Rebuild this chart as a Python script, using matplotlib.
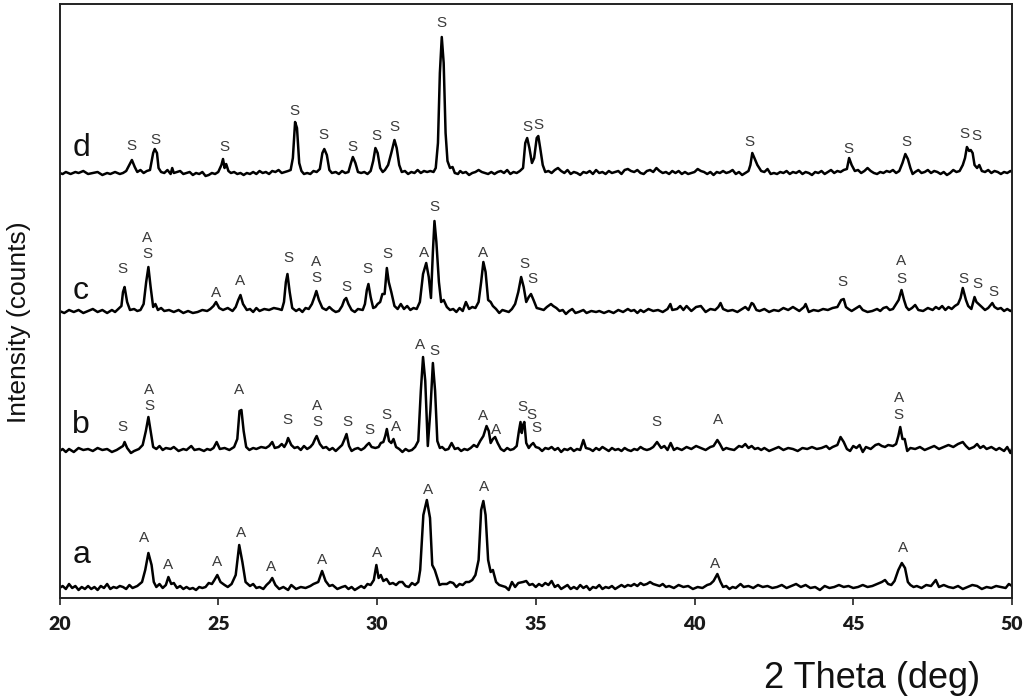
import matplotlib
matplotlib.use("Agg")
import matplotlib.pyplot as plt

# ---------------- data (2-theta in deg, intensity in arbitrary counts above each trace baseline)
trace_a = [(20.0, 2), (20.1, 4), (20.2, 1), (20.3, 6), (20.4, 2), (20.5, 4), (20.6, 0), (20.7, 3), (20.8, 1),
           (20.9, 4), (21.0, 1), (21.1, 3), (21.2, 0), (21.3, 4), (21.4, 2), (21.5, 6), (21.6, 1), (21.7, 3),
           (21.8, 2), (21.9, 4), (22.0, 3), (22.1, 1), (22.2, 5), (22.3, 2), (22.45, 4), (22.6, 8), (22.7, 20),
           (22.8, 37), (22.9, 25), (22.97, 8), (23.05, 3), (23.15, 6), (23.25, 2), (23.35, 5), (23.43, 13),
           (23.52, 6), (23.6, 7), (23.7, 2), (23.8, 4), (23.9, 1), (24.0, 3), (24.1, 1), (24.2, 2), (24.3, 0),
           (24.4, 3), (24.5, 2), (24.6, 3), (24.7, 7), (24.8, 6), (24.88, 10), (24.97, 15), (25.07, 8),
           (25.2, 5), (25.3, 3), (25.42, 6), (25.55, 15), (25.66, 45), (25.76, 28), (25.86, 8), (26.0, 4),
           (26.1, 6), (26.2, 2), (26.3, 3), (26.42, 1), (26.52, 5), (26.62, 8), (26.7, 12), (26.8, 5),
           (26.92, 1), (27.05, 3), (27.2, 0), (27.3, 5), (27.45, 1), (27.6, 3), (27.75, 2), (27.9, 4), (28.0, 6),
           (28.15, 8), (28.27, 19), (28.38, 9), (28.5, 4), (28.6, 5), (28.75, 1), (28.9, 3), (29.0, 4), (29.1, 1),
           (29.2, 3), (29.3, 0), (29.4, 2), (29.5, 4), (29.6, 2), (29.7, 6), (29.8, 5), (29.9, 10), (29.98, 25),
           (30.05, 12), (30.12, 15), (30.2, 9), (30.3, 11), (30.4, 6), (30.5, 7), (30.6, 5), (30.7, 8), (30.8, 8),
           (30.9, 4), (31.0, 3), (31.1, 7), (31.2, 5), (31.3, 8), (31.36, 20), (31.46, 75), (31.57, 90),
           (31.67, 72), (31.74, 25), (31.82, 20), (31.9, 12), (31.97, 5), (32.05, 6), (32.2, 6), (32.3, 8),
           (32.4, 7), (32.5, 3), (32.6, 6), (32.7, 5), (32.8, 8), (32.9, 8), (33.0, 10), (33.1, 15), (33.2, 30),
           (33.28, 80), (33.35, 89), (33.42, 75), (33.5, 30), (33.58, 18), (33.65, 20), (33.75, 8), (33.85, 5),
           (33.95, 4), (34.05, 3), (34.15, 0), (34.25, 8), (34.35, 3), (34.45, 7), (34.6, 8), (34.7, 9),
           (34.8, 5), (34.9, 6), (35.0, 3), (35.1, 6), (35.2, 4), (35.3, 7), (35.4, 5), (35.5, 9), (35.6, 3),
           (35.7, 5), (35.8, 1), (35.9, 3), (36.0, 5), (36.1, 1), (36.2, 3), (36.3, 1), (36.4, 5), (36.5, 2),
           (36.6, 4), (36.7, 0), (36.8, 3), (36.9, 2), (37.0, 5), (37.1, 1), (37.2, 3), (37.3, 2), (37.4, 4),
           (37.5, 1), (37.6, 3), (37.7, 5), (37.8, 3), (37.9, 5), (38.0, 4), (38.1, 6), (38.2, 4), (38.3, 7),
           (38.4, 5), (38.5, 6), (38.6, 8), (38.7, 6), (38.8, 5), (38.9, 4), (39.0, 6), (39.1, 3), (39.2, 4),
           (39.35, 2), (39.5, 5), (39.65, 3), (39.8, 4), (39.95, 1), (40.1, 3), (40.25, 2), (40.4, 5), (40.5, 6),
           (40.6, 9), (40.72, 16), (40.82, 8), (40.9, 3), (41.0, 4), (41.1, 1), (41.2, 3), (41.3, 2), (41.45, 6),
           (41.55, 3), (41.7, 4), (41.85, 2), (42.0, 5), (42.15, 3), (42.3, 4), (42.45, 2), (42.6, 3), (42.75, 5),
           (42.9, 2), (43.05, 4), (43.2, 6), (43.35, 3), (43.5, 5), (43.65, 2), (43.8, 3), (43.95, 0), (44.1, 4),
           (44.25, 2), (44.4, 3), (44.55, 5), (44.7, 3), (44.85, 4), (45.0, 2), (45.15, 3), (45.3, 5), (45.45, 3),
           (45.6, 4), (45.75, 6), (45.9, 8), (46.0, 10), (46.1, 6), (46.2, 5), (46.3, 9), (46.42, 20),
           (46.53, 27), (46.63, 22), (46.72, 8), (46.8, 5), (46.9, 3), (47.0, 4), (47.15, 2), (47.3, 5),
           (47.45, 4), (47.6, 10), (47.7, 3), (47.85, 5), (48.0, 3), (48.15, 2), (48.3, 4), (48.45, 1), (48.6, 3),
           (48.75, 5), (48.9, 4), (49.05, 1), (49.2, 3), (49.35, 2), (49.5, 4), (49.65, 3), (49.8, 2), (49.9, 6),
           (50.0, 4)]

trace_b = [(20.0, 0), (20.1, 2), (20.2, -1), (20.3, 2), (20.45, -1), (20.6, 3), (20.75, 1), (20.9, 2), (21.05, 0),
           (21.2, 3), (21.35, 1), (21.5, 2), (21.65, -1), (21.8, 1), (21.9, 3), (22.0, 5), (22.05, 9), (22.13, 3),
           (22.25, -2), (22.35, 0), (22.5, 2), (22.62, 6), (22.72, 20), (22.8, 34), (22.88, 18), (22.95, 4),
           (23.05, 2), (23.15, 5), (23.25, 1), (23.35, 3), (23.5, 2), (23.6, 4), (23.75, 0), (23.9, 2), (24.0, 1),
           (24.15, 5), (24.25, 1), (24.4, 2), (24.55, 0), (24.65, 2), (24.75, 1), (24.85, 3), (24.95, 9),
           (25.05, 2), (25.2, 3), (25.35, 1), (25.5, 4), (25.6, 12), (25.67, 40), (25.73, 41), (25.8, 20),
           (25.88, 4), (25.98, 1), (26.1, 3), (26.2, 2), (26.35, 4), (26.5, 3), (26.6, 5), (26.7, 9), (26.78, 3),
           (26.9, 4), (27.0, 7), (27.08, 4), (27.15, 8), (27.2, 13), (27.3, 6), (27.4, 3), (27.5, 4), (27.6, 1),
           (27.7, 5), (27.8, 2), (27.9, 4), (27.98, 7), (28.05, 12), (28.1, 15), (28.2, 7), (28.3, 3), (28.4, 4),
           (28.5, 1), (28.6, 3), (28.7, 0), (28.8, 3), (28.9, 6), (28.98, 12), (29.04, 17), (29.12, 5),
           (29.2, 0), (29.3, 2), (29.4, 3), (29.5, 1), (29.6, 3), (29.68, 6), (29.75, 8), (29.83, 4), (29.95, 3),
           (30.05, 4), (30.12, 8), (30.2, 9), (30.26, 15), (30.31, 22), (30.38, 10), (30.45, 8), (30.52, 12),
           (30.6, 4), (30.7, 2), (30.8, -1), (30.9, 2), (31.0, 0), (31.1, 1), (31.2, 4), (31.3, 10),
           (31.38, 60), (31.45, 94), (31.52, 70), (31.6, 5), (31.68, 40), (31.76, 88), (31.83, 60), (31.9, 10),
           (31.98, 3), (32.05, 4), (32.15, 1), (32.25, 2), (32.35, 8), (32.45, 2), (32.55, 3), (32.65, 0),
           (32.75, 2), (32.85, 1), (32.95, 3), (33.05, 6), (33.15, 4), (33.25, 10), (33.35, 15), (33.45, 25),
           (33.52, 20), (33.58, 8), (33.65, 12), (33.72, 14), (33.8, 8), (33.9, 2), (34.0, 0), (34.1, 3),
           (34.2, 1), (34.3, 2), (34.4, 5), (34.47, 20), (34.52, 29), (34.56, 18), (34.6, 26), (34.64, 29),
           (34.7, 8), (34.78, 3), (34.85, 6), (34.92, 8), (35.0, 4), (35.1, 3), (35.2, 0), (35.3, 3), (35.4, 2),
           (35.5, 4), (35.6, 1), (35.7, 3), (35.8, -1), (35.9, 2), (36.0, 1), (36.1, 3), (36.2, 0), (36.3, 2),
           (36.4, 1), (36.5, 11), (36.58, 3), (36.7, 2), (36.8, 0), (36.9, 3), (37.0, 1), (37.1, 4), (37.2, 2),
           (37.3, 0), (37.4, 3), (37.5, 1), (37.6, 2), (37.7, 0), (37.8, 3), (37.9, 1), (38.0, 0), (38.1, 2),
           (38.2, 1), (38.3, 4), (38.4, 2), (38.5, 1), (38.6, 2), (38.7, 4), (38.82, 9), (38.95, 3), (39.05, 5),
           (39.15, 1), (39.25, 8), (39.35, 1), (39.45, 3), (39.6, 1), (39.75, 4), (39.9, 2), (40.05, 5),
           (40.2, 3), (40.35, 1), (40.5, 4), (40.6, 5), (40.72, 11), (40.8, 7), (40.9, 1), (41.0, 3), (41.1, 2),
           (41.25, 1), (41.4, 5), (41.5, 4), (41.6, 7), (41.7, 3), (41.8, 5), (41.9, 2), (42.0, 3), (42.1, 1),
           (42.2, 3), (42.35, 0), (42.5, 2), (42.65, 4), (42.8, 1), (42.95, 3), (43.1, 2), (43.25, 0), (43.4, 3),
           (43.55, 2), (43.7, 4), (43.85, 2), (44.0, 3), (44.15, 5), (44.25, 2), (44.35, 4), (44.5, 6),
           (44.6, 14), (44.7, 9), (44.8, 2), (44.9, 0), (45.0, 5), (45.1, 3), (45.2, 6), (45.3, -1), (45.4, 4),
           (45.55, 2), (45.7, 6), (45.8, 7), (45.9, 5), (46.0, 4), (46.1, 6), (46.25, 5), (46.35, 7), (46.42, 15),
           (46.48, 24), (46.55, 12), (46.62, 12), (46.7, 0), (46.8, 3), (46.95, 2), (47.1, 4), (47.25, 1),
           (47.4, 3), (47.55, 5), (47.7, 2), (47.85, 4), (48.0, 6), (48.15, 4), (48.3, 7), (48.45, 9), (48.55, 5),
           (48.65, 2), (48.8, 4), (48.9, 7), (49.0, 3), (49.1, 5), (49.2, 2), (49.35, 4), (49.5, 1), (49.6, 3),
           (49.75, 0), (49.85, 4), (49.95, -2), (50.0, 2)]

trace_c = [(20.0, 1), (20.15, -1), (20.3, 2), (20.45, 0), (20.6, 2), (20.75, -1), (20.9, 1), (21.05, 3), (21.2, 0),
           (21.35, 2), (21.5, -1), (21.65, 2), (21.75, 0), (21.85, 3), (21.95, 6), (22.0, 20), (22.05, 25),
           (22.13, 10), (22.22, 2), (22.35, 3), (22.45, 1), (22.55, 2), (22.65, 8), (22.73, 30), (22.8, 45),
           (22.87, 25), (22.95, 5), (23.02, 8), (23.1, 2), (23.2, 4), (23.3, 1), (23.45, 2), (23.6, 0),
           (23.75, 2), (23.9, -1), (24.05, 1), (24.2, -1), (24.35, 0), (24.5, 2), (24.65, 1), (24.75, 3),
           (24.85, 6), (24.93, 10), (25.03, 4), (25.15, 2), (25.3, 4), (25.45, 1), (25.55, 5), (25.63, 12),
           (25.7, 17), (25.78, 8), (25.9, 2), (26.0, 3), (26.1, 0), (26.2, 4), (26.3, 1), (26.45, 3), (26.6, 2),
           (26.75, 4), (26.9, 3), (27.0, 2), (27.07, 10), (27.13, 30), (27.18, 38), (27.25, 20), (27.33, 4),
           (27.45, 1), (27.55, 3), (27.65, 0), (27.75, 4), (27.85, 3), (27.95, 8), (28.03, 15), (28.09, 21),
           (28.17, 12), (28.28, 4), (28.4, 2), (28.5, 5), (28.6, 2), (28.7, 0), (28.8, 1), (28.9, 6),
           (28.97, 12), (29.03, 14), (29.1, 8), (29.2, 2), (29.3, 0), (29.4, 3), (29.55, 2), (29.62, 8),
           (29.68, 22), (29.73, 28), (29.8, 15), (29.88, 4), (29.95, 5), (30.02, 8), (30.1, 10), (30.17, 18),
           (30.24, 18), (30.31, 44), (30.37, 30), (30.45, 20), (30.55, 6), (30.65, 3), (30.75, 8), (30.85, 3),
           (30.95, 6), (31.05, 2), (31.15, 4), (31.25, 3), (31.35, 10), (31.45, 38), (31.55, 49), (31.63, 35),
           (31.7, 14), (31.76, 60), (31.81, 91), (31.87, 70), (31.95, 30), (32.02, 10), (32.1, 12), (32.2, 5),
           (32.3, 2), (32.4, 3), (32.5, 0), (32.6, 4), (32.7, 1), (32.8, 10), (32.9, 3), (33.0, 5), (33.1, 4),
           (33.2, 10), (33.28, 30), (33.35, 50), (33.42, 40), (33.5, 12), (33.58, 10), (33.65, 6), (33.75, 3),
           (33.85, -1), (33.95, 2), (34.05, 1), (34.15, 0), (34.25, 3), (34.35, 8), (34.45, 20), (34.54, 35),
           (34.62, 25), (34.7, 10), (34.78, 15), (34.85, 18), (34.93, 12), (35.03, 4), (35.15, 3), (35.25, 2),
           (35.35, 5), (35.48, 8), (35.55, 6), (35.65, 4), (35.75, 1), (35.85, 2), (35.95, -2), (36.05, 1),
           (36.15, 3), (36.25, -1), (36.35, 0), (36.5, 2), (36.6, -1), (36.75, 1), (36.9, 0), (37.0, 1),
           (37.15, -1), (37.3, 1), (37.45, -1), (37.6, 2), (37.75, 0), (37.9, 3), (38.0, 1), (38.1, 2),
           (38.2, -1), (38.3, 2), (38.4, 0), (38.55, 3), (38.7, 1), (38.85, 2), (39.0, 0), (39.15, 3), (39.24, 8),
           (39.3, 2), (39.45, 3), (39.55, 6), (39.65, 2), (39.75, 6), (39.9, 1), (40.05, 5), (40.2, 6),
           (40.35, 0), (40.5, 3), (40.65, 2), (40.75, 5), (40.82, 9), (40.9, 3), (41.05, 1), (41.2, 2),
           (41.35, 0), (41.5, 3), (41.6, 5), (41.7, 2), (41.8, 9), (41.85, 8), (41.95, 2), (42.05, 1), (42.2, 3),
           (42.35, 0), (42.5, 2), (42.65, 1), (42.8, 4), (42.95, 2), (43.1, 5), (43.2, 3), (43.3, 1), (43.45, 5),
           (43.5, 8), (43.6, 0), (43.75, 2), (43.9, 1), (44.05, 3), (44.2, 2), (44.35, 4), (44.5, 5),
           (44.62, 12), (44.7, 13), (44.77, 5), (44.85, 3), (44.95, 1), (45.1, 4), (45.2, 6), (45.3, 2),
           (45.45, 0), (45.6, 1), (45.75, 3), (45.85, 1), (45.95, 4), (46.05, 5), (46.15, 2), (46.25, 3),
           (46.35, 8), (46.43, 12), (46.52, 22), (46.6, 12), (46.67, 5), (46.75, 2), (46.85, 4), (46.95, 7),
           (47.05, 2), (47.2, 1), (47.35, 4), (47.5, 2), (47.6, 5), (47.7, 3), (47.8, 6), (47.9, 2), (48.0, 5),
           (48.1, 3), (48.2, 6), (48.3, 8), (48.38, 14), (48.45, 24), (48.55, 12), (48.62, 6), (48.72, 3),
           (48.82, 15), (48.88, 10), (48.95, 8), (49.05, 5), (49.15, 2), (49.25, 4), (49.38, 9), (49.45, 5),
           (49.55, 3), (49.65, 4), (49.75, 1), (49.85, 3), (49.95, 1), (50.0, 2)]

trace_d = [(20.0, 0), (20.1, -1), (20.2, 1), (20.35, -1), (20.5, 1), (20.6, 0), (20.75, 2), (20.9, -1), (21.05, 0),
           (21.2, 1), (21.35, -2), (21.5, 0), (21.6, -1), (21.75, 1), (21.9, -1), (22.0, 0), (22.1, 2),
           (22.2, 8), (22.28, 13), (22.37, 6), (22.45, 1), (22.55, 3), (22.65, 0), (22.75, 2), (22.85, 3),
           (22.95, 20), (23.0, 24), (23.07, 20), (23.12, 5), (23.2, 1), (23.3, 0), (23.4, 3), (23.5, -1),
           (23.55, 5), (23.6, 0), (23.7, 1), (23.8, 2), (23.9, -1), (24.0, 0), (24.1, 1), (24.2, -2), (24.3, 0),
           (24.4, -1), (24.5, 1), (24.6, -3), (24.7, -2), (24.8, 0), (24.9, -1), (25.0, 1), (25.1, 8),
           (25.15, 14), (25.2, 5), (25.25, 9), (25.32, 2), (25.4, 0), (25.5, 1), (25.6, -1), (25.7, 0),
           (25.8, -2), (25.9, 0), (26.0, -1), (26.1, 1), (26.2, -1), (26.3, 2), (26.4, 0), (26.5, 1), (26.6, -1),
           (26.7, 2), (26.8, 1), (26.9, 3), (27.0, 0), (27.1, 1), (27.2, 2), (27.28, 3), (27.35, 15),
           (27.42, 51), (27.48, 45), (27.55, 10), (27.62, 2), (27.7, -1), (27.8, 0), (27.9, -1), (28.0, 2),
           (28.1, 1), (28.2, 4), (28.28, 20), (28.34, 24), (28.42, 18), (28.5, 3), (28.58, 0), (28.7, 1),
           (28.8, -1), (28.9, 2), (29.0, 0), (29.1, 1), (29.18, 10), (29.24, 16), (29.32, 10), (29.4, 1),
           (29.5, 0), (29.6, 1), (29.7, -1), (29.8, 2), (29.88, 12), (29.95, 25), (30.02, 20), (30.1, 5),
           (30.18, 1), (30.25, 3), (30.35, 8), (30.45, 20), (30.55, 33), (30.62, 25), (30.7, 8), (30.78, 1),
           (30.88, 2), (30.98, -1), (31.08, 1), (31.18, 0), (31.28, 3), (31.38, 0), (31.48, 2), (31.58, 1),
           (31.68, 2), (31.78, 1), (31.85, 5), (31.92, 30), (31.98, 100), (32.04, 136), (32.1, 110),
           (32.16, 40), (32.22, 12), (32.3, 5), (32.38, 6), (32.45, 0), (32.55, -1), (32.62, 2), (32.7, 0),
           (32.8, 1), (32.9, -2), (33.0, 0), (33.1, 1), (33.2, 3), (33.3, 1), (33.4, 0), (33.5, -1), (33.6, 1),
           (33.7, -1), (33.8, 1), (33.9, 2), (34.0, 0), (34.1, 3), (34.2, -1), (34.3, 1), (34.4, 0), (34.5, 2),
           (34.6, 5), (34.67, 30), (34.73, 35), (34.8, 25), (34.88, 10), (34.95, 15), (35.03, 35), (35.08, 37),
           (35.14, 25), (35.22, 8), (35.3, 1), (35.4, 2), (35.5, 0), (35.6, 3), (35.7, 5), (35.8, 2), (35.9, 0),
           (36.0, 3), (36.1, -1), (36.2, 1), (36.3, 0), (36.4, -2), (36.5, 1), (36.6, 0), (36.7, 2), (36.8, -1),
           (36.9, 3), (37.0, 0), (37.1, 1), (37.2, -1), (37.3, 2), (37.4, 0), (37.5, 1), (37.6, 2), (37.7, -1),
           (37.8, 3), (37.9, 4), (38.0, 2), (38.1, 1), (38.2, 3), (38.3, 0), (38.4, -1), (38.5, 2), (38.6, 3),
           (38.7, 1), (38.8, 5), (38.9, 2), (39.0, 0), (39.1, 1), (39.2, -1), (39.3, 2), (39.4, 0), (39.5, 2),
           (39.6, -1), (39.7, 1), (39.8, -1), (39.9, 0), (40.0, 1), (40.1, 4), (40.2, 2), (40.3, 1), (40.4, -1),
           (40.5, 1), (40.6, -2), (40.7, 1), (40.8, 0), (40.9, 2), (41.0, 0), (41.1, 1), (41.2, 3), (41.3, -1),
           (41.4, 1), (41.5, -2), (41.6, 0), (41.7, 2), (41.76, 8), (41.82, 20), (41.9, 14), (41.98, 8),
           (42.1, 2), (42.2, 1), (42.3, 4), (42.4, -1), (42.5, 0), (42.6, -1), (42.7, 1), (42.8, 0), (42.9, 2),
           (43.0, -1), (43.1, 1), (43.2, 0), (43.3, 2), (43.4, -1), (43.5, 1), (43.6, 0), (43.7, -2), (43.8, 1),
           (43.9, 0), (44.0, 2), (44.1, -1), (44.2, 1), (44.3, 3), (44.4, 0), (44.5, 2), (44.6, 1), (44.7, 3),
           (44.8, 4), (44.87, 15), (44.95, 8), (45.05, 2), (45.15, 3), (45.25, 0), (45.35, 2), (45.45, 5),
           (45.55, 2), (45.65, 0), (45.75, -1), (45.85, 1), (45.95, 0), (46.05, 2), (46.15, 1), (46.25, 3),
           (46.35, 0), (46.45, 2), (46.55, 10), (46.64, 19), (46.72, 14), (46.8, 5), (46.87, -1), (46.95, 1),
           (47.05, 3), (47.15, 0), (47.25, 1), (47.35, 3), (47.45, 0), (47.55, 2), (47.65, 1), (47.75, -1),
           (47.85, 1), (47.95, -2), (48.05, 0), (48.15, 3), (48.25, 1), (48.35, 2), (48.45, 8), (48.52, 15),
           (48.58, 26), (48.65, 22), (48.7, 23), (48.76, 20), (48.82, 8), (48.9, 5), (48.97, 8), (49.05, 2),
           (49.15, 1), (49.25, 3), (49.35, 0), (49.45, 2), (49.55, 1), (49.65, -1), (49.75, 1), (49.85, 0),
           (49.95, 2), (50.0, 1)]

# vertical offsets used to stack the patterns
trace_names = ["a", "b", "c", "d"]
trace_offsets = [8, 147, 286, 425]

# phase labels: (text, 2-theta, y position in stacked units)
labels_a = [("A", 22.66, 60), ("A", 23.42, 33), ("A", 24.96, 36), ("A", 25.72, 65), ("A", 26.67, 31),
            ("A", 28.27, 38), ("A", 30.0, 45), ("A", 31.61, 108), ("A", 33.38, 111), ("A", 40.65, 34),
            ("A", 46.58, 50)]
labels_b = [("S", 21.97, 171), ("A", 22.82, 208), ("S", 22.82, 192), ("A", 25.66, 208), ("S", 27.17, 178),
            ("A", 28.12, 192), ("S", 28.12, 176), ("S", 29.06, 176), ("S", 29.75, 168), ("S", 30.29, 183),
            ("A", 30.6, 171), ("A", 31.36, 253), ("S", 31.8, 247), ("A", 33.35, 182), ("A", 33.76, 168),
            ("S", 34.58, 191), ("S", 34.86, 183), ("S", 35.02, 170), ("S", 38.8, 176), ("A", 40.75, 178),
            ("A", 46.43, 200), ("S", 46.43, 183)]
labels_c = [("S", 21.97, 329), ("A", 22.76, 360), ("S", 22.76, 344), ("A", 24.93, 305), ("A", 25.69, 317),
            ("S", 27.2, 340), ("A", 28.08, 336), ("S", 28.08, 320), ("S", 29.03, 311), ("S", 29.69, 329),
            ("S", 30.32, 344), ("A", 31.49, 345), ("S", 31.8, 391), ("A", 33.35, 345), ("S", 34.64, 334),
            ("S", 34.89, 319), ("S", 44.66, 316), ("A", 46.52, 337), ("S", 46.52, 319), ("S", 48.48, 319),
            ("S", 48.92, 314), ("S", 49.42, 306)]
labels_d = [("S", 22.25, 452), ("S", 23.01, 458), ("S", 25.18, 451), ("S", 27.39, 487), ("S", 28.3, 463),
            ("S", 29.22, 451), ("S", 29.97, 462), ("S", 30.54, 471), ("S", 32.02, 575), ("S", 34.73, 471),
            ("S", 35.08, 473), ("S", 41.73, 456), ("S", 44.85, 449), ("S", 46.68, 456), ("S", 48.51, 464),
            ("S", 48.89, 462)]

# sample letters: (2-theta, baseline y)
sample_label_x = 20.68
sample_label_y = [35, 165, 299, 442]

x_ticks = [20, 25, 30, 35, 40, 45, 50]
x_label = "2 Theta (deg)"
y_label = "Intensity (counts)"

# ---------------- drawing
FONT = ["Liberation Sans", "DejaVu Sans"]
fig = plt.figure(figsize=(10.24, 7.0), dpi=100)
ax = fig.add_axes([59.5 / 1024, 1 - 598 / 700, (1012 - 59.5) / 1024, (598 - 4) / 700])

traces = [trace_a, trace_b, trace_c, trace_d]
for tr, off in zip(traces, trace_offsets):
    xs = [p[0] for p in tr]
    ys = [p[1] + off for p in tr]
    ax.plot(xs, ys, color="black", lw=1.8, solid_joinstyle="round")

for labs in (labels_a, labels_b, labels_c, labels_d):
    for t, x, y in labs:
        ax.text(x, y, t, ha="center", va="center", fontsize=11, color="#3a3a3a", family=FONT)

for name, y in zip(trace_names, sample_label_y):
    ax.text(sample_label_x, y, name, ha="center", va="baseline", fontsize=23, color="#111111", family=FONT)

ax.set_xlim(20, 50)
ax.set_ylim(0, 594)
ax.set_yticks([])
ax.set_xticks(x_ticks)
ax.set_xticklabels([str(t) for t in x_ticks])
ax.tick_params(axis="x", direction="out", length=5, width=1.2, pad=8, labelsize=14, color="#222222")
for lab in ax.get_xticklabels():
    lab.set_fontfamily(["Lato", "DejaVu Sans"])
    lab.set_fontweight("heavy")
    lab.set_color("#1a1a1a")
for sp in ax.spines.values():
    sp.set_linewidth(1.4)
    sp.set_color("#222222")

fig.text(872 / 1024, 1 - 678 / 700, x_label, ha="center", va="center", fontsize=26, family=FONT, color="#111111")
fig.text(19 / 1024, 1 - 322 / 700, y_label, ha="center", va="center", rotation=90, fontsize=19, family=FONT,
         color="#111111")

fig.savefig("out.png", dpi=100)
